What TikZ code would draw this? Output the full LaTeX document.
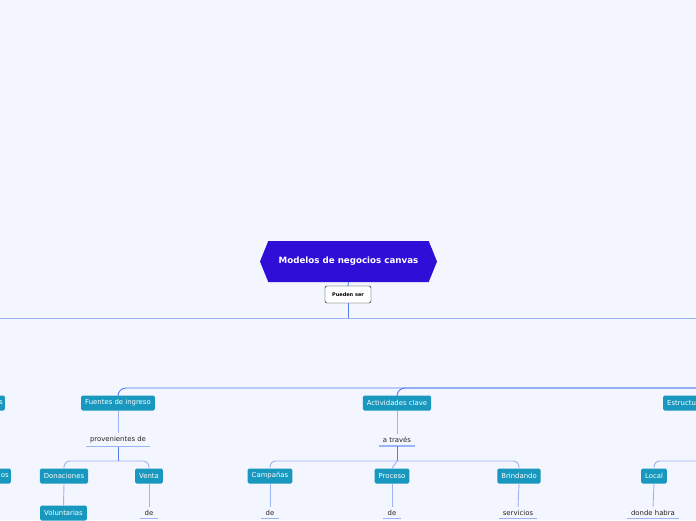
\documentclass[tikz,border=0pt]{standalone}
\usepackage{fontspec}
\setmainfont{DejaVu Sans}
\usetikzlibrary{shapes.symbols}
\definecolor{canvasbg}{RGB}{243,246,254}
\definecolor{rootfill}{RGB}{47,14,216}
\definecolor{topicfill}{RGB}{24,152,190}
\definecolor{linkdark}{RGB}{84,124,238}
\definecolor{linklight}{RGB}{156,180,246}
\tikzset{root/.style = {shape = signal, signal to = east and west, signal pointer angle = 136, fill = rootfill, text = white, font = \fontsize{8.7}{10}\selectfont\bfseries, minimum width = 177pt, minimum height = 41pt, inner sep = 0pt}}
\tikzset{boxed/.style = {draw, fill = white, rounded corners = 1.5pt, font = \fontsize{5}{6}\selectfont\bfseries, minimum width = 46pt, minimum height = 17pt, inner sep = 0pt}}
\tikzset{topic/.style = {fill = topicfill, text = white, rounded corners = 1.5pt, font = \fontsize{6.9}{8}\selectfont, minimum height = 15pt, inner xsep = 4pt, inner ysep = 0pt}}
\tikzset{linktext/.style = {text = black!85, font = \fontsize{6.9}{8}\selectfont, inner xsep = 4pt, inner ysep = 3pt}}
\tikzset{under/.style = {draw = linklight, line width = 1.2pt}}
\tikzset{edge/.style = {draw = linklight, line width = 0.9pt}}
\tikzset{trunk/.style = {draw = linkdark, line width = 0.9pt}}
\begin{document}
\begin{tikzpicture}[x = 1pt, y = -1pt]
			\fill[canvasbg] (0, 0) rectangle (696, 520);
			\useasboundingbox (0, 0) rectangle (696, 520);

			\node[root] (title) at (348.5, 261.5) {Modelos de negocios canvas};
			\node[boxed] (pueden) at (348, 294.5) {Pueden ser};

			\coordinate (hub) at (348, 318);
			\coordinate (hubw) at (-5, 318);
			\coordinate (hube) at (701, 318);
			\coordinate (feed) at (701, 388);
			\coordinate (locb) at (701, 461);

			\node[topic, anchor = east, inner xsep = 2pt] (lefta) at (5, 403) {s};
			\node[topic] (fuentes) at (118, 403) {Fuentes de ingreso};
			\node[topic] (acti) at (397, 403) {Actividades clave};
			\node[topic, anchor = west] (estr) at (663, 403) {Estructu};

			\node[linktext] (prov) at (118, 440) {provenientes de};
			\node[linktext] (trav) at (397, 440) {a través};
			\coordinate (provb) at (118, 461);
			\coordinate (travb) at (397, 461);

			\node[topic, anchor = east, inner xsep = 2pt] (leftb) at (11, 476) {os};
			\node[topic] (don) at (64, 476) {Donaciones};
			\node[topic] (venta) at (149, 476) {Venta};
			\node[topic] (camp) at (270, 476) {Campañas};
			\node[topic] (proc) at (392, 476) {Proceso};
			\node[topic] (brin) at (519, 476) {Brindando};
			\node[topic] (local) at (654, 476) {Local};

			\node[topic] (vol) at (63.5, 513) {Voluntarias};
			\node[linktext] (de1) at (149, 513) {de};
			\node[linktext] (de2) at (270, 513) {de};
			\node[linktext] (de3) at (392, 513) {de};
			\node[linktext] (serv) at (518, 513) {servicios};
			\node[linktext] (donde) at (653, 513) {donde habra};

			\draw[under] (prov.south west) -- (prov.south east);
			\draw[under] (trav.south west) -- (trav.south east);
			\draw[under] (de1.south west) -- (de1.south east);
			\draw[under] (de2.south west) -- (de2.south east);
			\draw[under] (de3.south west) -- (de3.south east);
			\draw[under] (serv.south west) -- (serv.south east);
			\draw[under] (donde.south west) -- (donde.south east);

			\draw[trunk] (title.south) -- (pueden.north);
			\draw[trunk] (pueden.south) -- (hub);
			\draw[edge] (hubw) -- (hube);
			\draw[trunk, rounded corners = 8pt] (feed) -| (fuentes.north);
			\draw[trunk, rounded corners = 8pt] (feed) -| (acti.north);

			\draw[edge] (fuentes.south) -- (prov.north);
			\draw[edge] (acti.south) -- (trav.north);
			\draw[trunk] (prov.south) -- (provb);
			\draw[trunk] (trav.south) -- (travb);
			\draw[edge, rounded corners = 6pt] (provb) -| (don.north);
			\draw[edge, rounded corners = 6pt] (provb) -| (venta.north);
			\draw[edge, rounded corners = 6pt] (travb) -| (camp.north);
			\draw[edge] (travb) -- (proc.north);
			\draw[edge, rounded corners = 6pt] (travb) -| (brin.north);
			\draw[edge, rounded corners = 6pt] (locb) -| (local.north);

			\draw[edge] (don.south) -- (vol.north);
			\draw[edge] (venta.south) -- (de1.north);
			\draw[edge] (camp.south) -- (de2.north);
			\draw[edge] (proc.south) -- (de3.north);
			\draw[edge] (brin.south) -- (serv.north);
			\draw[edge] (local.south) -- (donde.north);
		\end{tikzpicture}
\end{document}
